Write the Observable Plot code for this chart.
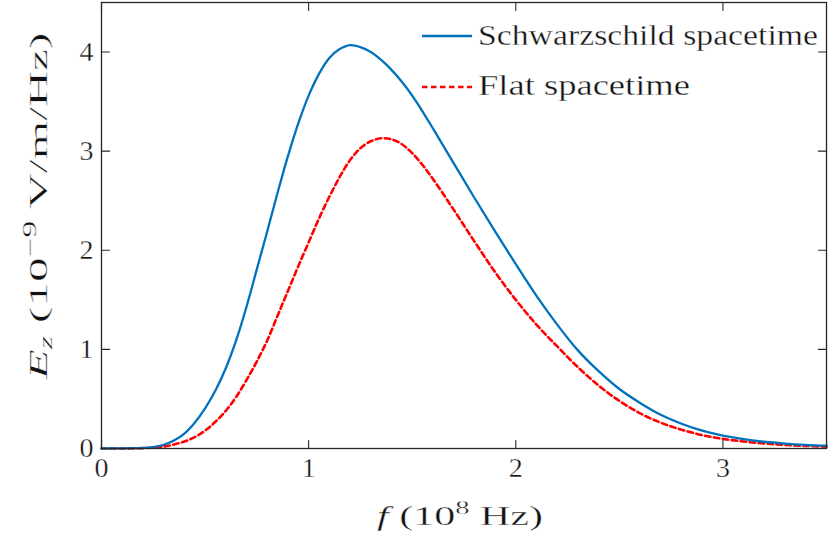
<!DOCTYPE html>
<html><head><meta charset="utf-8">
<script src="https://cdn.jsdelivr.net/npm/d3@7"></script>
<script src="https://cdn.jsdelivr.net/npm/@observablehq/plot@0.6"></script>
<style>
html,body{margin:0;padding:0;background:#fff;} #chart{width:830px;height:534px;}
#chart svg text{stroke:#fff;stroke-width:0.35px;paint-order:normal;}
</style>
</head><body><div id="chart"></div>
<script>
// ---- data ----
const xTicks = [0, 1, 2, 3];
const yTicks = [0, 1, 2, 3, 4];
const seriesNames = ["Schwarzschild spacetime", "Flat spacetime"];

const schwarzF = [0, 0.1, 0.2, 0.25, 0.3, 0.35, 0.4, 0.45, 0.5, 0.55, 0.6, 0.65, 0.7, 0.75, 0.8, 0.85, 0.9, 0.95, 1.0, 1.05, 1.1, 1.15, 1.2, 1.25, 1.3, 1.35, 1.4, 1.45, 1.5, 1.55, 1.6, 1.7, 1.8, 1.9, 2.0, 2.1, 2.2, 2.3, 2.4, 2.5, 2.6, 2.7, 2.8, 2.9, 3.0, 3.1, 3.2, 3.3, 3.4, 3.5];
const schwarzE = [0, 0.001, 0.006, 0.015, 0.038, 0.08, 0.15, 0.26, 0.405, 0.585, 0.81, 1.09, 1.43, 1.81, 2.19, 2.58, 2.95, 3.28, 3.56, 3.78, 3.94, 4.03, 4.07, 4.05, 4.00, 3.92, 3.82, 3.70, 3.56, 3.40, 3.23, 2.88, 2.53, 2.19, 1.86, 1.54, 1.25, 0.99, 0.78, 0.60, 0.46, 0.34, 0.25, 0.18, 0.13, 0.095, 0.068, 0.05, 0.037, 0.028];

const flatF = [0, 0.1, 0.2, 0.3, 0.35, 0.4, 0.45, 0.5, 0.55, 0.6, 0.65, 0.7, 0.75, 0.8, 0.85, 0.9, 0.95, 1.0, 1.05, 1.1, 1.15, 1.2, 1.25, 1.3, 1.35, 1.4, 1.45, 1.5, 1.55, 1.6, 1.7, 1.8, 1.9, 2.0, 2.1, 2.2, 2.3, 2.4, 2.5, 2.6, 2.7, 2.8, 2.9, 3.0, 3.1, 3.2, 3.3, 3.4, 3.5];
const flatE = [0, 0.0005, 0.004, 0.02, 0.04, 0.07, 0.115, 0.18, 0.27, 0.38, 0.52, 0.69, 0.88, 1.09, 1.34, 1.59, 1.84, 2.08, 2.32, 2.54, 2.74, 2.91, 3.03, 3.10, 3.13, 3.12, 3.07, 2.98, 2.86, 2.72, 2.41, 2.09, 1.78, 1.50, 1.25, 1.03, 0.82, 0.635, 0.48, 0.355, 0.26, 0.19, 0.135, 0.097, 0.07, 0.05, 0.036, 0.026, 0.019];

const schwarz = schwarzF.map((f, i) => ({f, e: schwarzE[i]}));
const flat = flatF.map((f, i) => ({f, e: flatE[i]}));

const BLUE = "#0072BD", RED = "#FF0000", AX = "#262626";
const FONT = "'Liberation Serif', 'Times New Roman', Tinos, 'Nimbus Roman', Times, serif";
const tickShape = {draw(ctx, l) { ctx.moveTo(0, 0); ctx.lineTo(0, -l); }};
const tk = {length: 8, anchor: "start", shape: tickShape, stroke: AX, strokeWidth: 1.1};

const svg = Plot.plot({
  width: 830, height: 534,
  marginLeft: 101, marginRight: 4, marginTop: 2, marginBottom: 86,
  x: {domain: [0, 3.5]},
  y: {domain: [0, 4.5]},
  style: {fontFamily: FONT, background: "white", color: AX},
  marks: [
    Plot.line(flat, {x: "f", y: "e", stroke: RED, strokeWidth: 2.6, strokeDasharray: "5.5,3.5", curve: "catmull-rom"}),
    Plot.line(schwarz, {x: "f", y: "e", stroke: BLUE, strokeWidth: 2.3, curve: "catmull-rom"}),
    Plot.frame({stroke: AX, strokeWidth: 1.3}),
    Plot.vector(xTicks, {x: d => d, frameAnchor: "bottom", rotate: 0, ...tk}),
    Plot.vector(xTicks, {x: d => d, frameAnchor: "top", rotate: 180, ...tk}),
    Plot.vector(yTicks, {y: d => d, frameAnchor: "left", rotate: 90, ...tk}),
    Plot.vector(yTicks, {y: d => d, frameAnchor: "right", rotate: -90, ...tk}),
    Plot.axisX({ticks: xTicks, tickSize: 0, tickPadding: 9, fontSize: 28, label: null, tickFormat: d => String(d), fill: "#111"}),
    Plot.axisY({ticks: yTicks, tickSize: 0, tickPadding: 8, fontSize: 28, label: null, tickFormat: d => String(d), fill: "#111"})
  ]
});
document.getElementById("chart").appendChild(svg);

const s = d3.select(svg);
// x label
const xl = s.append("text").attr("x", 460).attr("y", 525).attr("text-anchor", "middle")
  .attr("font-family", FONT).attr("font-size", 28).attr("fill", "#111").style("white-space", "pre")
  .attr("textLength", 166).attr("lengthAdjust", "spacingAndGlyphs");
xl.append("tspan").attr("font-style", "italic").text("f");
xl.append("tspan").text(" (10");
xl.append("tspan").attr("font-size", 19).attr("dy", -11).text("8");
xl.append("tspan").attr("dy", 11).text(" Hz)");

// y label
const yl = s.append("text").attr("transform", "translate(47,206) rotate(-90)").attr("text-anchor", "middle")
  .attr("font-family", FONT).attr("font-size", 26).attr("fill", "#111").style("white-space", "pre")
  .attr("textLength", 347).attr("lengthAdjust", "spacingAndGlyphs");
yl.append("tspan").attr("font-style", "italic").text("E");
yl.append("tspan").attr("font-style", "italic").attr("font-size", 18).attr("dy", 5).text("z");
yl.append("tspan").attr("dy", -5).text(" (10");
yl.append("tspan").attr("font-size", 18).attr("dy", -11).text("\u22129");
yl.append("tspan").attr("dy", 11).text(" V/m/Hz)");

// legend
const leg = [
  {name: seriesNames[0], color: BLUE, dash: null, w: 2.3, ly: 36, ty: 45, len: 340},
  {name: seriesNames[1], color: RED, dash: "5.5,3.5", w: 2.6, ly: 87, ty: 95, len: 212}
];
leg.forEach(d => {
  const ln = s.append("line").attr("x1", 422).attr("x2", 472).attr("y1", d.ly).attr("y2", d.ly)
    .attr("stroke", d.color).attr("stroke-width", d.w);
  if (d.dash) ln.attr("stroke-dasharray", d.dash);
  s.append("text").attr("x", 478).attr("y", d.ty).attr("text-anchor", "start")
    .attr("font-family", FONT).attr("font-size", 30).style("white-space", "pre")
    .attr("fill", "#111").attr("textLength", d.len).attr("lengthAdjust", "spacingAndGlyphs").text(d.name);
});
</script></body></html>
